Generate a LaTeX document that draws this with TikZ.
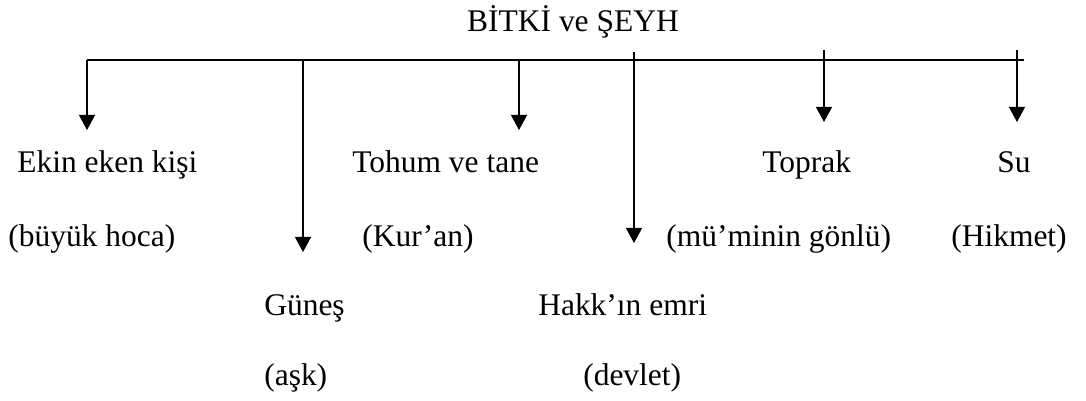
\documentclass[tikz,border=0pt]{standalone}
\usepackage{fontspec}
\setmainfont{Liberation Serif}
\usetikzlibrary{arrows.meta, positioning, calc}

\begin{document}
\begin{tikzpicture}[
    font=\fontsize{22.4}{27}\selectfont,
    label/.style={anchor=base west, inner sep=0pt},
    title/.style={anchor=base, inner sep=0pt},
    bar/.style={line width=0.9pt},
    arr/.style={-{Triangle[length=10.7pt, width=11.4pt]}, line width=0.9pt}
  ]

  \useasboundingbox (0,0) rectangle (27.15,-10.025);

  \node[title] (root) at (14.325,-0.8) {BİTKİ ve ŞEYH};

  % Labels, first row
  \node[label] (ekin)    at (0.425,-4.325)  {Ekin eken kişi};
  \node[label] (ekinb)   at (0.2,-6.175)    {(büyük hoca)};
  \node[label] (tohum)   at (8.8,-4.325)    {Tohum ve tane};
  \node[label] (tohumb)  at (9.05,-6.175)   {(Kur’an)};
  \node[label] (toprak)  at (19.05,-4.325)  {Toprak};
  \node[label] (toprakb) at (16.65,-6.175)  {(mü’minin gönlü)};
  \node[label] (su)      at (24.925,-4.325) {Su};
  \node[label] (sub)     at (23.775,-6.175) {(Hikmet)};

  % Labels, second row
  \node[label] (gunes)   at (6.6,-7.9)      {Güneş};
  \node[label] (gunesb)  at (6.6,-9.65)     {(aşk)};
  \node[label] (hakk)    at (13.45,-7.9)    {Hakk’ın emri};
  \node[label] (hakkb)   at (14.575,-9.65)  {(devlet)};

  % Ends of the branches
  \coordinate (left)     at (2.175,-1.5);
  \coordinate (right)    at (25.6,-1.5);
  \coordinate (ekin-t)   at (2.175,-1.5);
  \coordinate (ekin-h)   at (2.175,-3.25);
  \coordinate (gunes-t)  at (7.575,-1.5);
  \coordinate (gunes-h)  at (7.575,-6.3);
  \coordinate (tohum-t)  at (12.975,-1.5);
  \coordinate (tohum-h)  at (12.975,-3.25);
  \coordinate (hakk-t)   at (15.85,-1.3);
  \coordinate (hakk-h)   at (15.85,-6.075);
  \coordinate (toprak-t) at (20.6,-1.25);
  \coordinate (toprak-h) at (20.6,-3.05);
  \coordinate (su-t)     at (25.425,-1.25);
  \coordinate (su-h)     at (25.425,-3.05);

  % Main bar and arrows
  \draw[bar] (left) -- (right);
  \draw[arr] (ekin-t)   -- (ekin-h);
  \draw[arr] (gunes-t)  -- (gunes-h);
  \draw[arr] (tohum-t)  -- (tohum-h);
  \draw[arr] (hakk-t)   -- (hakk-h);
  \draw[arr] (toprak-t) -- (toprak-h);
  \draw[arr] (su-t)     -- (su-h);

\end{tikzpicture}
\end{document}
